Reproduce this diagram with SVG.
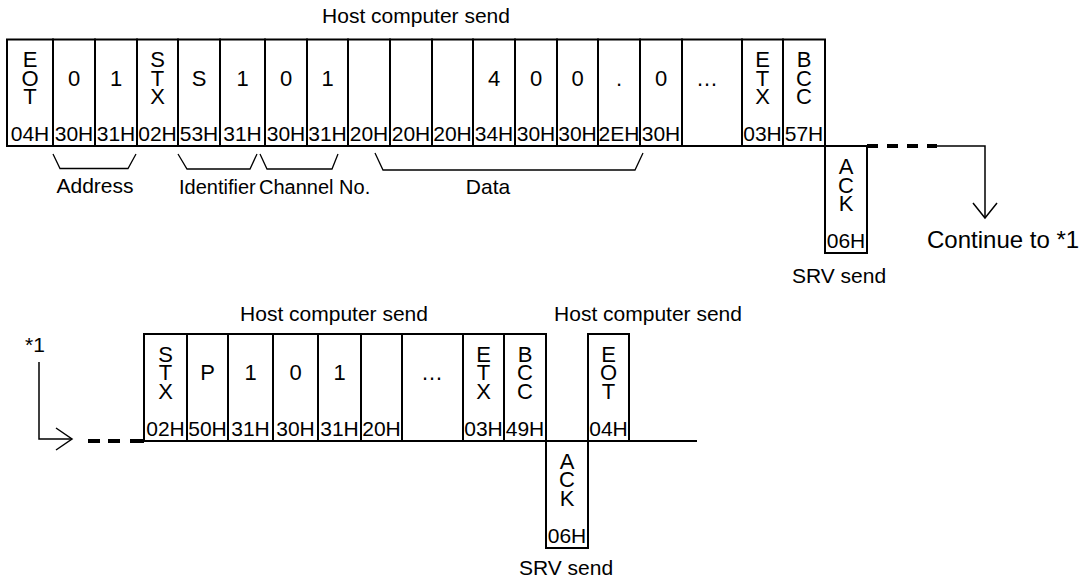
<svg xmlns="http://www.w3.org/2000/svg" width="1091" height="582" viewBox="0 0 1091 582">
<style>
text{font-family:"Liberation Sans",Arial,sans-serif;fill:#000}
.ch{font-size:22px;text-anchor:middle}
.hx{font-size:21px;text-anchor:middle}
.lb{font-size:21px;text-anchor:middle}
.cell{fill:#fff;stroke:#000;stroke-width:2}
.br{fill:none;stroke:#000;stroke-width:1.3}
.ln{fill:none;stroke:#000;stroke-width:1.5}
.dash{fill:none;stroke:#000;stroke-width:4}
</style>
<rect width="1091" height="582" fill="#fff"/>
<text class="lb" x="416" y="23">Host computer send</text>
<g id="frame1">
<g id="t-eot"><rect class="cell" x="7" y="39.5" width="46" height="106.5"/><text class="ch" x="30" y="67">E<tspan x="30" dy="18.5">O</tspan><tspan x="30" dy="18.5">T</tspan></text><text class="hx" x="30" y="140.5">04H</text></g>
<g id="t-a0"><rect class="cell" x="53" y="39.5" width="42" height="106.5"/><text class="ch" x="74" y="85.5">0</text><text class="hx" x="74" y="140.5">30H</text></g>
<g id="t-a1"><rect class="cell" x="95" y="39.5" width="42" height="106.5"/><text class="ch" x="116" y="85.5">1</text><text class="hx" x="116" y="140.5">31H</text></g>
<g id="t-stx"><rect class="cell" x="137" y="39.5" width="41" height="106.5"/><text class="ch" x="157.5" y="67">S<tspan x="157.5" dy="18.5">T</tspan><tspan x="157.5" dy="18.5">X</tspan></text><text class="hx" x="157.5" y="140.5">02H</text></g>
<g id="t-s"><rect class="cell" x="178" y="39.5" width="42" height="106.5"/><text class="ch" x="199" y="85.5">S</text><text class="hx" x="199" y="140.5">53H</text></g>
<g id="t-i1"><rect class="cell" x="220" y="39.5" width="45" height="106.5"/><text class="ch" x="242.5" y="85.5">1</text><text class="hx" x="242.5" y="140.5">31H</text></g>
<g id="t-c0"><rect class="cell" x="265" y="39.5" width="42" height="106.5"/><text class="ch" x="286" y="85.5">0</text><text class="hx" x="286" y="140.5">30H</text></g>
<g id="t-c1"><rect class="cell" x="307" y="39.5" width="41" height="106.5"/><text class="ch" x="327.5" y="85.5">1</text><text class="hx" x="327.5" y="140.5">31H</text></g>
<g id="t-d1"><rect class="cell" x="348" y="39.5" width="42" height="106.5"/><text class="hx" x="369" y="140.5">20H</text></g>
<g id="t-d2"><rect class="cell" x="390" y="39.5" width="42" height="106.5"/><text class="hx" x="411" y="140.5">20H</text></g>
<g id="t-d3"><rect class="cell" x="432" y="39.5" width="41" height="106.5"/><text class="hx" x="452.5" y="140.5">20H</text></g>
<g id="t-d4"><rect class="cell" x="473" y="39.5" width="42" height="106.5"/><text class="ch" x="494" y="85.5">4</text><text class="hx" x="494" y="140.5">34H</text></g>
<g id="t-d5"><rect class="cell" x="515" y="39.5" width="42" height="106.5"/><text class="ch" x="536" y="85.5">0</text><text class="hx" x="536" y="140.5">30H</text></g>
<g id="t-d6"><rect class="cell" x="557" y="39.5" width="41" height="106.5"/><text class="ch" x="577.5" y="85.5">0</text><text class="hx" x="577.5" y="140.5">30H</text></g>
<g id="t-d7"><rect class="cell" x="598" y="39.5" width="42" height="106.5"/><text class="ch" x="619" y="85.5">.</text><text class="hx" x="619" y="140.5">2EH</text></g>
<g id="t-d8"><rect class="cell" x="640" y="39.5" width="42" height="106.5"/><text class="ch" x="661" y="85.5">0</text><text class="hx" x="661" y="140.5">30H</text></g>
<g id="t-dots"><rect class="cell" x="682" y="39.5" width="60" height="106.5"/><text class="ch" x="707" y="85.5">…</text></g>
<g id="t-etx"><rect class="cell" x="742" y="39.5" width="41" height="106.5"/><text class="ch" x="762.5" y="67">E<tspan x="762.5" dy="18.5">T</tspan><tspan x="762.5" dy="18.5">X</tspan></text><text class="hx" x="762.5" y="140.5">03H</text></g>
<g id="t-bcc"><rect class="cell" x="783" y="39.5" width="42" height="106.5"/><text class="ch" x="804" y="67">B<tspan x="804" dy="18.5">C</tspan><tspan x="804" dy="18.5">C</tspan></text><text class="hx" x="804" y="140.5">57H</text></g>
</g>
<g id="t-ack"><rect class="cell" x="825" y="146" width="42" height="107"/><text class="ch" x="846" y="174">A<tspan x="846" dy="18.5">C</tspan><tspan x="846" dy="18.5">K</tspan></text><text class="hx" x="846" y="247.5">06H</text><text class="lb" x="839" y="283">SRV send</text></g>
<g id="braces">
<polyline class="br" points="53,154 60,168.5 128,168.5 136,154"/>
<polyline class="br" points="178,154 187,169 250,169 257,154"/>
<polyline class="br" points="260,154 267,169 332,169 338,154"/>
<polyline class="br" points="375,153 383,170 635,170 643,153"/>
<text class="lb" x="95" y="193">Address</text>
<text x="179" y="194" style="font-size:20px">Identifier</text>
<text x="259" y="194" style="font-size:20px">Channel No.</text>
<text class="lb" x="488" y="194">Data</text>
</g>
<text x="927" y="248" style="font-size:24px">Continue to *1</text>
<text class="lb" x="35" y="352">*1</text>
<text class="lb" x="334" y="321">Host computer send</text>
<text class="lb" x="648" y="321">Host computer send</text>
<g id="frame2">
<g id="b-stx"><rect class="cell" x="144" y="334" width="43" height="107"/><text class="ch" x="165.5" y="361.5">S<tspan x="165.5" dy="18.5">T</tspan><tspan x="165.5" dy="18.5">X</tspan></text><text class="hx" x="165.5" y="435.5">02H</text></g>
<g id="b-p"><rect class="cell" x="187" y="334" width="41" height="107"/><text class="ch" x="207.5" y="380">P</text><text class="hx" x="207.5" y="435.5">50H</text></g>
<g id="b-1a"><rect class="cell" x="228" y="334" width="45" height="107"/><text class="ch" x="250.5" y="380">1</text><text class="hx" x="250.5" y="435.5">31H</text></g>
<g id="b-0"><rect class="cell" x="273" y="334" width="45" height="107"/><text class="ch" x="295.5" y="380">0</text><text class="hx" x="295.5" y="435.5">30H</text></g>
<g id="b-1b"><rect class="cell" x="318" y="334" width="43" height="107"/><text class="ch" x="339.5" y="380">1</text><text class="hx" x="339.5" y="435.5">31H</text></g>
<g id="b-sp"><rect class="cell" x="361" y="334" width="41" height="107"/><text class="hx" x="381.5" y="435.5">20H</text></g>
<g id="b-dots"><rect class="cell" x="402" y="334" width="61" height="107"/><text class="ch" x="432" y="380">…</text></g>
<g id="b-etx"><rect class="cell" x="463" y="334" width="41" height="107"/><text class="ch" x="483.5" y="361.5">E<tspan x="483.5" dy="18.5">T</tspan><tspan x="483.5" dy="18.5">X</tspan></text><text class="hx" x="483.5" y="435.5">03H</text></g>
<g id="b-bcc"><rect class="cell" x="504" y="334" width="42" height="107"/><text class="ch" x="525" y="361.5">B<tspan x="525" dy="18.5">C</tspan><tspan x="525" dy="18.5">C</tspan></text><text class="hx" x="525" y="435.5">49H</text></g>
</g>
<g id="b-ack"><rect class="cell" x="546" y="441" width="42" height="107"/><text class="ch" x="567" y="468.5">A<tspan x="567" dy="18.5">C</tspan><tspan x="567" dy="18.5">K</tspan></text><text class="hx" x="567" y="542.5">06H</text><text class="lb" x="566" y="575">SRV send</text></g>
<g id="b-eot"><rect class="cell" x="588" y="334" width="41" height="107"/><text class="ch" x="608.5" y="361.5">E<tspan x="608.5" dy="18.5">O</tspan><tspan x="608.5" dy="18.5">T</tspan></text><text class="hx" x="608.5" y="435.5">04H</text></g>
<g id="connectors">
<path class="dash" d="M867 146H937" stroke-dasharray="11 9"/>
<path class="ln" d="M936 146H985V218"/>
<polyline class="ln" points="973,203 985,218 997,203"/>
<path class="ln" d="M39 362V439H72"/>
<polyline class="ln" points="56,428 72,439 56,450"/>
<path class="dash" d="M88 441H144" stroke-dasharray="12 8 12 10 14"/>
<path d="M629 441H697" fill="none" stroke="#000" stroke-width="2"/>
</g>
</svg>
